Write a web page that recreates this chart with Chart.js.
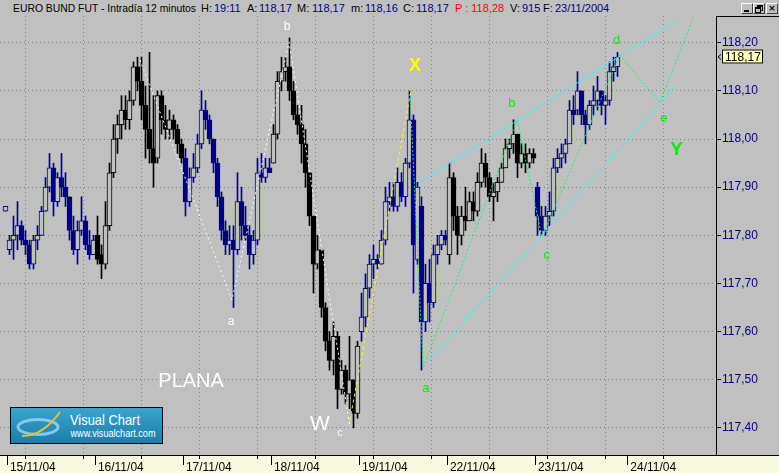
<!DOCTYPE html>
<html>
<head>
<meta charset="utf-8">
<script src="https://cdn.jsdelivr.net/npm/chart.js@4.4.1/dist/chart.umd.min.js"></script>
<style>
  body { margin:0; background:#c0c0c0; width:779px; height:473px; overflow:hidden; position:relative; font-family:"Liberation Sans", Arial, sans-serif; }
  #title { position:absolute; left:0; top:0; width:779px; height:16px; font-size:11px; line-height:16px; }
  #title span { position:absolute; top:0; white-space:nowrap; transform-origin:0 50%; }
  #title .v { color:#000080; }
  .btn { position:absolute; top:3px; width:10px; height:9px; border:1px solid; border-color:#fff #404040 #404040 #fff; background:#c0c0c0; }
  #wrap { position:absolute; left:0; top:16px; }
  #logo { position:absolute; left:10px; top:407px; }
</style>
</head>
<body>
<div id="title">
  <span data-w="183" style="left:13px">EURO BUND FUT - Intradía 12 minutos</span>
  <span style="left:201px">H:</span><span class="v" style="left:214px">19:11</span>
  <span style="left:247px">A:</span><span class="v" style="left:259px">118,17</span>
  <span style="left:297px">M:</span><span class="v" style="left:312px">118,17</span>
  <span style="left:351px">m:</span><span class="v" style="left:365px">118,16</span>
  <span style="left:403px">C:</span><span class="v" style="left:416px">118,17</span>
  <span style="left:455px;color:#ff0000">P : 118,28</span>
  <span style="left:510px">V:</span><span class="v" style="left:522px">915</span>
  <span style="left:543px">F:</span><span class="v" style="left:555px">23/11/2004</span>
  <div class="btn" style="left:741px"><div style="position:absolute;left:2px;top:6px;width:5px;height:2px;background:#000"></div></div>
  <div class="btn" style="left:753px"><div style="position:absolute;left:3px;top:1px;width:4px;height:3px;border:1px solid #000;border-top-width:2px"></div><div style="position:absolute;left:1px;top:3px;width:4px;height:3px;border:1px solid #000;border-top-width:2px;background:#c0c0c0"></div></div>
  <div class="btn" style="left:766px;font:bold 9px/9px 'DejaVu Sans';text-align:center">×</div>
</div>
<div id="wrap"><canvas id="chart" width="779" height="457"></canvas></div>
<svg id="logo" width="153" height="37" viewBox="0 0 153 37">
  <defs><linearGradient id="lg" x1="0" y1="0" x2="0" y2="1"><stop offset="0" stop-color="#3ba4cc"/><stop offset="1" stop-color="#1b7eab"/></linearGradient></defs>
  <rect x="0.5" y="0.5" width="152" height="36" fill="url(#lg)" stroke="#000"/>
  <ellipse cx="28" cy="20" rx="20" ry="7.5" fill="none" stroke="#8fd6f4" stroke-width="3" opacity="0.85"/>
  <path d="M12 29 Q 33 29 50 5" stroke="#f0c030" stroke-width="2" fill="none"/>
  <text x="60" y="18" fill="#fff" font-family="Liberation Sans" font-size="15" textLength="70" lengthAdjust="spacingAndGlyphs">Visual Chart</text>
  <text x="60.5" y="30" fill="#fff" font-family="Liberation Sans" font-size="11" textLength="85" lengthAdjust="spacingAndGlyphs">www.visualchart.com</text>
</svg>
<script>
// squeeze the long title text to the width of the original narrow font
document.querySelectorAll("#title span[data-w]").forEach(el => {
  const w = el.getBoundingClientRect().width;
  el.style.transform = "scaleX(" + (el.dataset.w / w) + ")";
});

// 12-minute candles, first one at x = -1, one day = 22 slots
const firstSlot = -1;
const opens = [
  117.85, 117.77, 117.79, 117.80, 117.82, 117.79, 117.78, 117.74, 117.79, 117.80, 117.85, 117.90, 117.94, 117.87, 117.92, 117.90, 117.88, 117.81, 117.77, 117.81, 117.83, 117.78, 117.76,
  117.80, 117.76, 117.74, 117.82, 117.93, 118.00, 118.03, 118.06, 118.04, 118.08, 118.15, 118.12, 118.07, 118.02, 117.98, 117.96, 118.09, 118.04, 118.02, 118.04, 118.02, 117.99,
  117.96, 117.87, 117.92, 117.94, 117.99, 118.06, 118.04, 118.00, 117.95, 117.88, 117.81, 117.78, 117.79, 117.77, 117.87, 117.82, 117.80, 117.76, 117.79, 117.93, 117.92, 117.94,
  117.95, 118.01, 118.12, 118.14, 118.15, 118.10, 118.05, 118.03, 117.99, 117.93, 117.84, 117.74, 117.77, 117.65, 117.58, 117.54, 117.59, 117.48, 117.52, 117.47, 117.50, 117.43,
  117.60, 117.63, 117.69, 117.74, 117.75, 117.74, 117.79, 117.87, 117.88, 117.86, 117.91, 117.88, 117.95, 118.04, 117.75, 117.86, 117.62, 117.70, 117.66, 117.76, 117.78, 117.80,
  117.76, 117.92, 117.84, 117.80, 117.84, 117.83, 117.87, 117.85, 117.91, 117.95, 117.92, 117.88, 117.89, 117.91, 117.94, 117.98, 117.99, 118.01, 117.95, 117.97, 117.95, 117.97,
  117.90, 117.84, 117.81, 117.84, 117.85, 117.94, 117.96, 117.97, 117.99, 118.06, 118.06, 118.10, 118.05, 118.03, 118.07, 118.08, 118.10, 118.07, 118.08, 118.14, 118.15
];
const highs = [
  117.86, 117.80, 117.84, 117.87, 117.83, 117.81, 117.79, 117.80, 117.82, 117.86, 117.92, 117.97, 117.95, 117.93, 117.97, 117.93, 117.88, 117.84, 117.83, 117.88, 117.84, 117.81, 117.80,
  117.84, 117.78, 117.87, 117.95, 118.03, 118.05, 118.09, 118.09, 118.10, 118.16, 118.17, 118.17, 118.11, 118.18, 118.09, 118.10, 118.10, 118.07, 118.06, 118.05, 118.03, 118.00,
  117.98, 117.94, 117.97, 118.01, 118.10, 118.08, 118.05, 118.00, 117.96, 117.89, 117.83, 117.82, 117.82, 117.93, 117.90, 117.86, 117.82, 117.81, 117.96, 117.97, 117.96, 117.96,
  118.03, 118.14, 118.17, 118.17, 118.21, 118.12, 118.07, 118.07, 118.02, 117.93, 117.84, 117.80, 117.77, 117.66, 117.60, 117.62, 117.60, 117.54, 117.53, 117.59, 117.50, 117.58,
  117.68, 117.72, 117.76, 117.78, 117.76, 117.81, 117.90, 117.91, 117.91, 117.94, 117.93, 117.96, 118.10, 118.05, 117.91, 117.88, 117.74, 117.75, 117.78, 117.80, 117.81, 117.81,
  117.95, 117.93, 117.86, 117.86, 117.90, 117.89, 117.89, 117.93, 117.98, 117.97, 117.93, 117.91, 117.92, 117.95, 118.00, 118.00, 118.04, 118.01, 117.99, 117.99, 117.98, 117.98,
  117.91, 117.86, 117.86, 117.89, 117.96, 117.98, 117.99, 118.00, 118.08, 118.09, 118.14, 118.10, 118.06, 118.08, 118.11, 118.13, 118.10, 118.09, 118.16, 118.17, 118.18
];
const lows = [
  117.85, 117.76, 117.75, 117.77, 117.78, 117.76, 117.73, 117.73, 117.77, 117.80, 117.85, 117.89, 117.84, 117.86, 117.88, 117.86, 117.79, 117.76, 117.74, 117.80, 117.77, 117.75, 117.76,
  117.74, 117.71, 117.73, 117.81, 117.92, 117.97, 118.00, 118.02, 118.02, 118.07, 118.10, 118.04, 117.96, 117.95, 117.90, 117.95, 118.01, 118.00, 118.00, 118.00, 117.97, 117.95,
  117.84, 117.86, 117.91, 117.93, 117.98, 118.02, 117.99, 117.93, 117.86, 117.79, 117.76, 117.76, 117.65, 117.76, 117.79, 117.79, 117.73, 117.74, 117.78, 117.91, 117.91, 117.93,
  117.95, 118.00, 118.10, 118.12, 118.08, 118.04, 118.01, 117.95, 117.90, 117.82, 117.68, 117.73, 117.63, 117.56, 117.52, 117.51, 117.44, 117.47, 117.45, 117.44, 117.40, 117.42,
  117.58, 117.61, 117.67, 117.71, 117.73, 117.74, 117.78, 117.85, 117.85, 117.85, 117.87, 117.86, 117.94, 117.68, 117.74, 117.52, 117.60, 117.62, 117.65, 117.74, 117.77, 117.78,
  117.74, 117.81, 117.76, 117.78, 117.81, 117.83, 117.83, 117.84, 117.90, 117.90, 117.87, 117.83, 117.87, 117.91, 117.94, 117.96, 117.97, 117.92, 117.94, 117.93, 117.94, 117.95,
  117.80, 117.80, 117.80, 117.82, 117.84, 117.93, 117.94, 117.95, 117.99, 118.03, 118.05, 118.03, 117.99, 118.02, 118.05, 118.06, 118.05, 118.03, 118.07, 118.12, 118.13
];
const closes = [
  117.86, 117.79, 117.80, 117.82, 117.79, 117.78, 117.74, 117.79, 117.80, 117.85, 117.90, 117.94, 117.87, 117.92, 117.90, 117.88, 117.81, 117.77, 117.81, 117.83, 117.78, 117.76, 117.79,
  117.75, 117.74, 117.82, 117.93, 118.00, 118.03, 118.06, 118.04, 118.08, 118.15, 118.12, 118.07, 118.02, 117.98, 117.95, 118.09, 118.04, 118.02, 118.04, 118.02, 117.99, 117.96,
  117.87, 117.92, 117.94, 117.99, 118.06, 118.04, 118.00, 117.95, 117.88, 117.81, 117.78, 117.79, 117.77, 117.87, 117.82, 117.80, 117.76, 117.79, 117.93, 117.92, 117.94, 117.93,
  118.01, 118.12, 118.14, 118.15, 118.10, 118.05, 118.03, 117.99, 117.93, 117.84, 117.74, 117.77, 117.65, 117.58, 117.54, 117.59, 117.48, 117.52, 117.47, 117.50, 117.43, 117.57,
  117.63, 117.69, 117.74, 117.75, 117.74, 117.79, 117.87, 117.88, 117.86, 117.91, 117.88, 117.95, 118.04, 117.78, 117.90, 117.62, 117.70, 117.66, 117.76, 117.78, 117.80, 117.79,
  117.92, 117.84, 117.80, 117.84, 117.83, 117.87, 117.85, 117.91, 117.95, 117.92, 117.88, 117.89, 117.91, 117.94, 117.98, 117.99, 118.01, 117.95, 117.97, 117.95, 117.97, 117.96,
  117.84, 117.81, 117.84, 117.85, 117.94, 117.96, 117.97, 117.99, 118.06, 118.05, 118.10, 118.05, 118.03, 118.07, 118.08, 118.10, 118.07, 118.08, 118.14, 118.15, 118.17
];

const dayStarts = [-0.5, 21.5, 43.5, 65.5, 87.5, 109.5, 131.5, 154.6];
const dayLabels = ["15/11/04", "16/11/04", "17/11/04", "18/11/04", "19/11/04", "22/11/04", "23/11/04", "24/11/04"];
const gridSlots = [3.875, 18.375, 32.875, 47.375, 61.875, 76.375, 90.875, 105.375, 119.875, 134.375, 148.875, 163.375];
const priceTicks = [117.4, 117.5, 117.6, 117.7, 117.8, 117.9, 118.0, 118.1, 118.2];

// wave count drawn on top (slot, price)
const whiteWaveX = [32.6, 55.6, 69.9, 85.1];
const whiteWaveY = [118.164, 117.666, 118.201, 117.402];
const yellowWaveX = [85.1, 100.4];
const yellowWaveY = [117.416, 118.102];
const greenWaveX = [100.1, 103.4, 126.9, 133.1, 152.6, 162.6, 170.9];
const greenWaveY = [118.102, 117.524, 118.039, 117.797, 118.174, 118.075, 118.251];
const upperLineX = [102.6, 166.9];
const upperLineY = [117.911, 118.247];
const lowerLineX = [103.4, 166.4];
const lowerLineY = [117.526, 118.108];

const waveLabels = [
  {text: "b", at: [69.4, 118.233], color: "#ffffff", font: "12px 'Liberation Sans'"},
  {text: "a", at: [55.4, 117.620], color: "#ffffff", font: "12px 'Liberation Sans'"},
  {text: "c", at: [82.6, 117.390], color: "#ffffff", font: "11px 'Liberation Sans'"},
  {text: "W", at: [77.6, 117.407], color: "#ffffff", font: "21px 'Liberation Sans'"},
  {text: "PLANA", at: [45.4, 117.497], color: "#ffffff", font: "20px 'Liberation Sans'"},
  {text: "X", at: [101.4, 118.151], color: "#ffff00", font: "bold 18px 'Liberation Sans'"},
  {text: "a", at: [104.1, 117.481], color: "#00f000", font: "13px 'Liberation Sans'"},
  {text: "b", at: [125.6, 118.073], color: "#00f000", font: "13px 'Liberation Sans'"},
  {text: "c", at: [134.3, 117.758], color: "#00f000", font: "13px 'Liberation Sans'"},
  {text: "d", at: [151.75, 118.204], color: "#00f000", font: "13px 'Liberation Sans'"},
  {text: "e", at: [163.6, 118.043], color: "#00f000", font: "13px 'Liberation Sans'"},
  {text: "Y", at: [166.75, 117.978], color: "#00f000", font: "bold 19px 'Liberation Sans'"}
];

const xMin = -2.375, xMax = 176.625;
const yMin = 117.3437, yMax = 118.2555;

function dayColor(slot) {
  const d = Math.max(0, dayStarts.filter(s => s < slot).length - 1);
  return d % 2 ? "#000000" : "#000080";
}

const slots = opens.map((_, k) => k + firstSlot);
const colors = slots.map(dayColor);
const wicks = slots.map((s, k) => ({x: s, y: [lows[k], highs[k]]}));
const bodies = slots.map((s, k) => ({x: s, y: [opens[k], closes[k]]}));
const bodyFill = slots.map((s, k) => closes[k] < opens[k] ? colors[k] : "#c0c0c0");

function pts(xs, ys) {
  return xs.map((v, k) => ({x: v, y: ys[k]}));
}

function waveLine(xs, ys, color, dash) {
  return {
    type: "line", data: pts(xs, ys), borderColor: color, borderWidth: 1,
    borderDash: dash, pointRadius: 0, fill: false, tension: 0, order: 1
  };
}

const decor = {
  id: "decor",
  beforeDraw(chart) {
    const {ctx, chartArea: a, width, height} = chart;
    ctx.save();
    ctx.fillStyle = "#fafae1";
    ctx.fillRect(0, a.bottom, width, height - a.bottom);
    ctx.strokeStyle = "#000";
    ctx.lineWidth = 1;
    ctx.beginPath();
    ctx.moveTo(0, a.bottom + 0.5);
    ctx.lineTo(width, a.bottom + 0.5);
    ctx.moveTo(a.right, a.top + 0.5);
    ctx.lineTo(width, a.top + 0.5);
    ctx.stroke();
    ctx.restore();
  },
  beforeDatasetsDraw(chart) {
    // vertical dotted grid at the time slots, with short marks in the date strip
    const {ctx, chartArea: a, scales: {x}} = chart;
    ctx.save();
    ctx.lineWidth = 1;
    gridSlots.forEach(v => {
      const px = Math.round(x.getPixelForValue(v)) + 0.5;
      ctx.strokeStyle = "#808080";
      ctx.setLineDash([1, 3]);
      ctx.beginPath();
      ctx.moveTo(px, a.top);
      ctx.lineTo(px, a.bottom);
      ctx.stroke();
      ctx.strokeStyle = "#000";
      ctx.setLineDash([]);
      ctx.beginPath();
      ctx.moveTo(px, a.bottom);
      ctx.lineTo(px, a.bottom + 4);
      ctx.stroke();
    });
    ctx.restore();
  },
  afterDatasetsDraw(chart) {
    const {ctx, scales: {x, y}} = chart;
    ctx.save();
    ctx.textAlign = "center";
    ctx.textBaseline = "middle";
    waveLabels.forEach(l => {
      ctx.font = l.font;
      ctx.fillStyle = l.color;
      ctx.fillText(l.text, x.getPixelForValue(l.at[0]), y.getPixelForValue(l.at[1]));
    });

    // last price flag on the axis
    const last = closes[closes.length - 1];
    const py = Math.round(y.getPixelForValue(last)) - 0.5;
    const bx = x.right + 6;
    ctx.fillStyle = "#ffffc0";
    ctx.fillRect(bx, py - 7, 41, 14);
    ctx.strokeStyle = "#000";
    ctx.lineWidth = 1;
    ctx.strokeRect(bx + 0.5, py - 6.5, 40, 13);
    ctx.beginPath();
    ctx.moveTo(x.right + 5, py - 2);
    ctx.lineTo(x.right + 2, py + 0.5);
    ctx.lineTo(x.right + 5, py + 3);
    ctx.stroke();
    ctx.fillStyle = "#000";
    ctx.font = "12px 'Liberation Sans'";
    ctx.textAlign = "left";
    ctx.fillText(last.toFixed(2).replace(".", ","), bx + 3, py + 1);
    ctx.restore();
  }
};

Chart.defaults.font.family = "'Liberation Sans', Arial, sans-serif";
Chart.defaults.font.size = 12;

new Chart(document.getElementById("chart"), {
  type: "bar",
  data: {
    datasets: [
      waveLine(whiteWaveX, whiteWaveY, "#ffffff", [2, 3]),
      waveLine(yellowWaveX, yellowWaveY, "#ffff00", [3, 3]),
      waveLine(greenWaveX, greenWaveY, "#00ff66", [2, 2]),
      waveLine(upperLineX, upperLineY, "#33f0ff", []),
      waveLine(lowerLineX, lowerLineY, "#33f0ff", []),
      {
        data: bodies, backgroundColor: bodyFill, borderColor: colors, borderWidth: 1,
        borderSkipped: false, barThickness: 5, minBarLength: 1, grouped: false, order: 2
      },
      {
        data: wicks, backgroundColor: colors, borderWidth: 0,
        barThickness: 1, grouped: false, order: 3
      }
    ]
  },
  options: {
    responsive: false,
    animation: false,
    devicePixelRatio: 1,
    events: [],
    layout: {padding: 0, autoPadding: false},
    plugins: {legend: {display: false}, tooltip: {enabled: false}},
    scales: {
      x: {
        type: "linear", position: "bottom", min: xMin, max: xMax, offset: false,
        afterBuildTicks: s => { s.ticks = dayStarts.map(v => ({value: v})); },
        afterFit: s => { s.height = 18; s.paddingLeft = 0; s.paddingRight = 0; },
        grid: {drawOnChartArea: false, offset: false, tickLength: 10, tickWidth: 1, tickColor: "#000"},
        border: {display: true, color: "#000"},
        ticks: {
          align: "start", maxRotation: 0, autoSkip: false, padding: -5, color: "#000",
          font: {size: 12},
          callback: (v, i) => "\u2009" + dayLabels[i]
        }
      },
      y: {
        position: "right", min: yMin, max: yMax,
        afterBuildTicks: s => { s.ticks = priceTicks.map(v => ({value: v})); },
        afterFit: s => { s.width = 63; s.paddingTop = 0; s.paddingBottom = 0; },
        grid: {color: "#808080", tickColor: "#000080", tickLength: 5, tickBorderDash: []},
        border: {display: true, color: "#000", dash: [1, 3]},
        ticks: {
          color: "#000080", padding: 1, font: {size: 12},
          callback: v => v.toFixed(2).replace(".", ",")
        }
      }
    }
  },
  plugins: [decor]
});
</script>
</body>
</html>
